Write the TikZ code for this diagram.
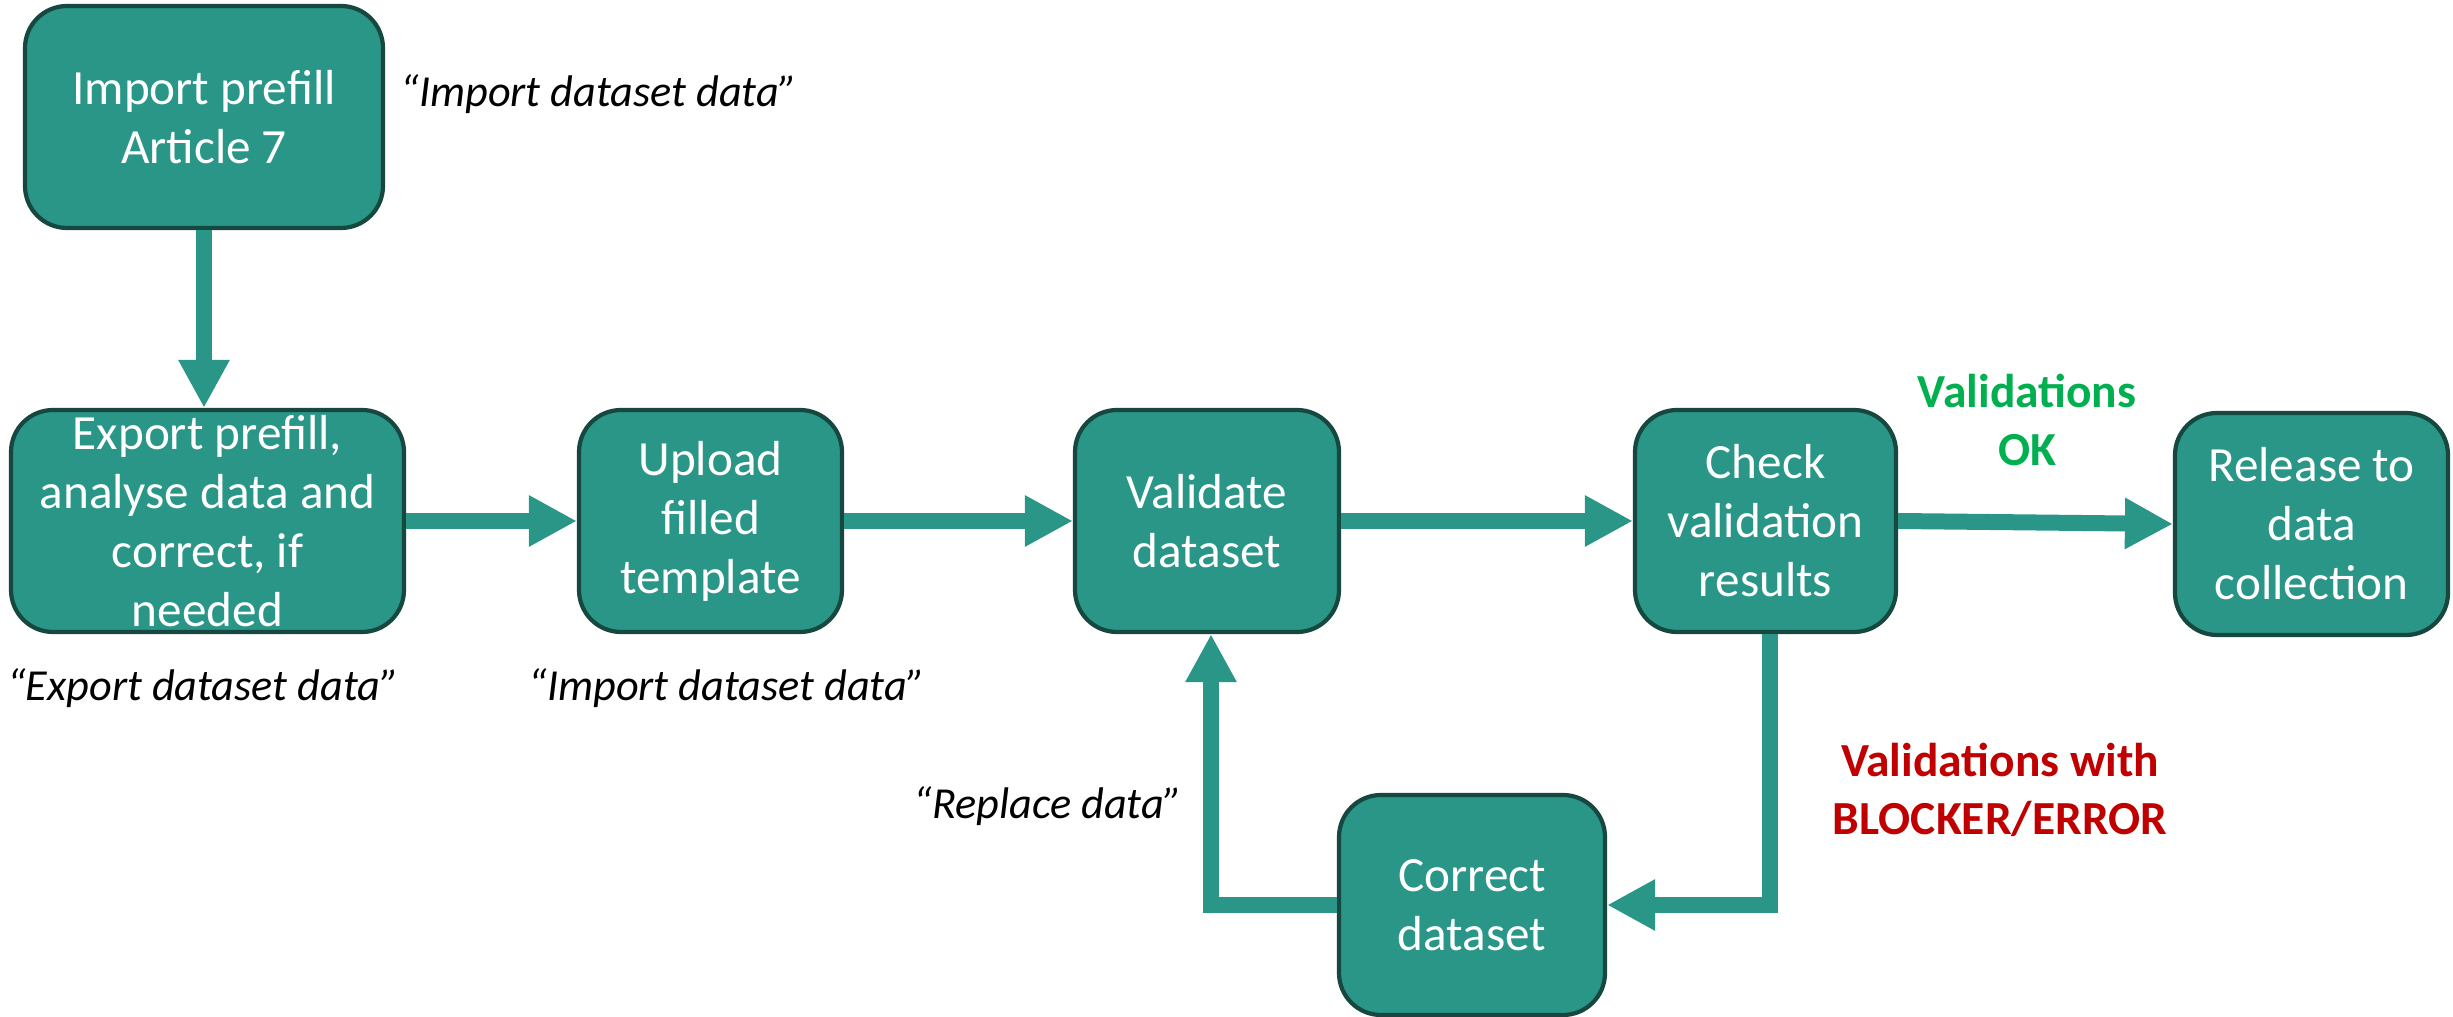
\documentclass[tikz,border=0pt]{standalone}
\usepackage{fontspec}
\setmainfont{Carlito}
\usetikzlibrary{positioning,arrows.meta}
\definecolor{stagefill}{RGB}{42,150,135}
\definecolor{stageline}{RGB}{22,72,64}
\definecolor{okgreen}{RGB}{0,176,80}
\definecolor{errred}{RGB}{192,0,0}

\begin{document}
\begin{tikzpicture}[
  stage/.style={fill=stagefill, draw=stageline, line width=1.2pt, rounded corners=0.42cm,
    text=white, align=center, minimum height=2.2cm, inner sep=1pt,
    font=\fontsize{14}{16.8}\selectfont},
  note/.style={font=\fontsize{12.6}{15}\selectfont\itshape},
  verdict/.style={font=\fontsize{13.5}{16.5}\selectfont\bfseries, align=center},
  flow/.style={draw=stagefill, line width=0.16cm, -{Triangle[length=0.48cm,width=0.48cm]}}
]
\useasboundingbox (0,0) rectangle (24.53,-10.17);

% the steps
\node[stage, minimum width=3.58cm, minimum height=2.22cm] (prefill) at (2.04,-1.17) {Import prefill\\Article 7};
\node[stage, minimum width=3.93cm, minimum height=2.22cm] (export) at (2.075,-5.21) {Export prefill,\\analyse data and\\correct, if\\needed};
\node[stage, minimum width=2.63cm, minimum height=2.22cm] (upload) at (7.105,-5.21) {Upload\\filled\\template};
\node[stage, minimum width=2.64cm, minimum height=2.22cm] (validate) at (12.07,-5.21) {Validate\\dataset};
\node[stage, minimum width=2.61cm, minimum height=2.22cm] (check) at (17.655,-5.21) {Check\\validation\\results};
\node[stage, minimum width=2.73cm, minimum height=2.22cm] (release) at (23.115,-5.24) {Release to\\data\\collection};
\node[stage, minimum width=2.66cm, minimum height=2.2cm] (correct) at (14.72,-9.05) {Correct\\dataset};

% what to call
\node[note] (n1) at (5.99,-0.94) {“Import dataset data”};
\node[note] (n2) at (2.03,-6.88) {“Export dataset data”};
\node[note] (n3) at (7.27,-6.88) {“Import dataset data”};
\node[note] (n4) at (10.48,-8.06) {“Replace data”};

% outcomes
\node[verdict, text=okgreen] (ok) at (20.27,-4.20) {Validations\\OK};
\node[verdict, text=errred] (err) at (20.0,-7.90) {Validations with\\BLOCKER/ERROR};

% arrows
\draw[flow] (prefill.south) -- (prefill.south |- export.north);
\draw[flow] (export.east) -- (upload.west);
\draw[flow] (upload.east) -- (validate.west);
\draw[flow] (validate.east) -- (check.west);
\draw[flow] (check.east) -- (release.west);
\draw[flow] ([xshift=0.04cm]check.south) |- (correct.east);
\draw[flow] (correct.west) -| ([xshift=0.04cm]validate.south);
\end{tikzpicture}
\end{document}
